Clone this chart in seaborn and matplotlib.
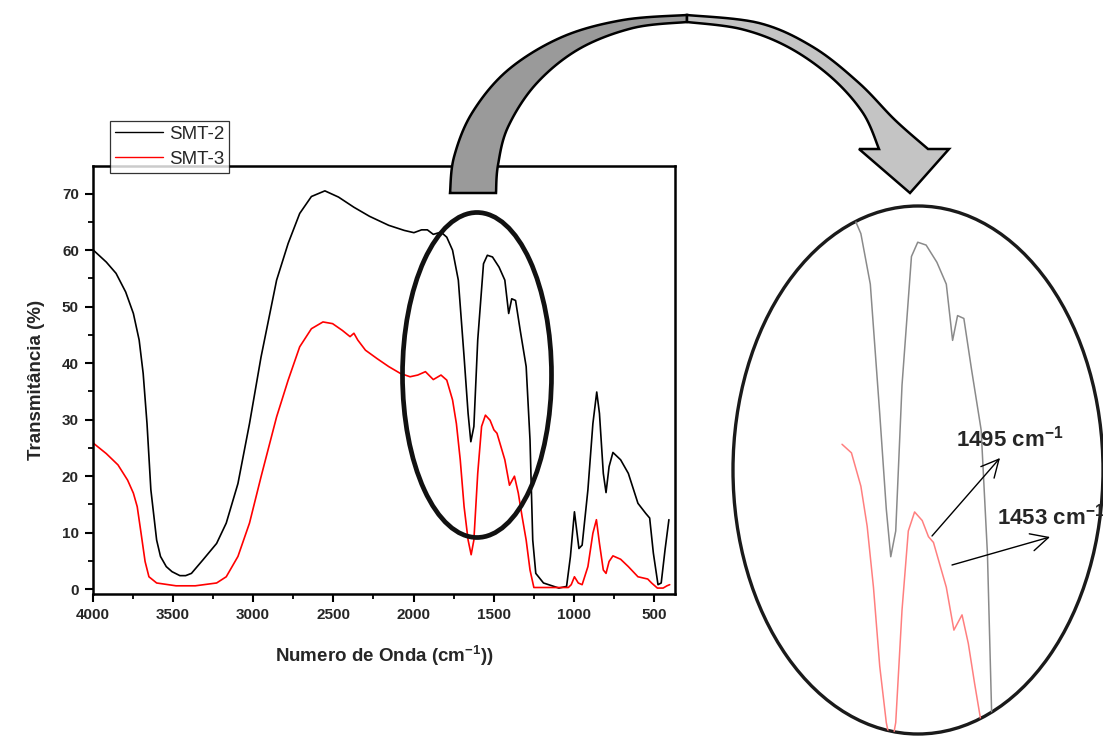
import numpy as np
import pandas as pd
import matplotlib
matplotlib.use("Agg")
import matplotlib.pyplot as plt
import seaborn as sns
from matplotlib.patches import Ellipse, Polygon, FancyArrowPatch
from matplotlib.ticker import MultipleLocator

# ---------------- data ----------------
wn_smt2 = [4000, 3916, 3855, 3795, 3747, 3711, 3686, 3662, 3638, 3602, 3578, 3542, 3506, 3457,
           3421, 3385, 3313,
           3228, 3168, 3095, 3023, 2951, 2854, 2782, 2710, 2637, 2553, 2468, 2372, 2275, 2155,
           2058, 1998, 1950, 1914, 1877, 1829, 1793, 1757, 1721, 1685, 1660, 1643, 1624, 1600,
           1564, 1540, 1508, 1467, 1431, 1407, 1388, 1364, 1335, 1298, 1274, 1257, 1238, 1190,
           1094, 1046, 1022, 997, 969, 949, 913, 882, 858, 841, 817, 800, 781, 757, 709, 661,
           601, 552, 528, 505, 476, 456, 432, 408]
t_smt2 = [60.1, 57.9, 55.9, 52.6, 48.8, 44.1, 38.2, 29.3, 17.6, 8.7, 5.8, 4.0, 3.1, 2.4,
          2.4, 2.8, 5.2,
          8.1, 11.7, 18.7, 29.3, 41.1, 54.7, 61.2, 66.5, 69.5, 70.5, 69.4, 67.6, 66.0, 64.4,
          63.5, 63.1, 63.6, 63.6, 62.8, 63.2, 62.3, 60.0, 54.7, 41.1, 31.1, 26.1, 28.8, 44.1,
          57.6, 59.1, 58.8, 57.0, 54.7, 48.8, 51.4, 51.1, 45.8, 39.4, 26.4, 8.7, 2.8, 1.1,
          0.2, 0.5, 5.8, 13.7, 7.2, 7.8, 17.6, 29.3, 34.9, 31.1, 20.5, 17.1, 21.7, 24.2, 22.9, 20.5,
          15.2, 13.4, 12.6, 6.4, 0.8, 1.1, 7.0, 12.3]

wn_smt3 = [4000, 3999, 3916, 3843, 3783, 3747, 3723, 3699, 3674, 3650, 3602, 3481, 3361, 3228,
           3168, 3095, 3023, 2951, 2854, 2782, 2710, 2637, 2565, 2505, 2444, 2396, 2372, 2348,
           2300, 2227, 2155, 2083, 2022, 1974, 1926, 1877, 1829, 1793, 1757, 1733, 1709, 1685,
           1660, 1641, 1624, 1600, 1576, 1552, 1523, 1499, 1480, 1455, 1431, 1402, 1371, 1347,
           1323, 1298, 1274, 1250, 1190, 1035, 1017, 997, 973, 949, 913, 882, 860, 841, 817,
           800, 781, 757, 709, 661, 601, 540, 516, 480, 444, 420, 403]
t_smt3 = [0.0, 25.9, 24.0, 22.0, 19.3, 17.0, 14.6, 9.9, 4.9, 2.2, 1.1, 0.6, 0.6, 1.1,
          2.2, 5.8, 11.7, 19.9, 30.5, 37.0, 42.9, 46.1, 47.3, 47.0, 45.8, 44.7, 45.3, 44.1,
          42.3, 40.8, 39.4, 38.2, 37.6, 37.9, 38.5, 37.1, 37.9, 37.0, 33.5, 29.3, 22.9, 14.6,
          8.7, 6.1, 8.7, 20.5, 28.8, 30.8, 29.9, 28.2, 27.6, 25.2, 22.9, 18.4, 20.0, 17.0,
          12.8, 8.7, 3.4, 0.3, 0.3, 0.3, 0.8, 2.2, 1.1, 0.8, 4.0, 9.9, 12.3, 8.1, 3.4,
          2.8, 4.9, 5.9, 5.3, 4.0, 2.2, 1.8, 1.1, 0.2, 0.2, 0.6, 0.8]

series_labels = ["SMT-2", "SMT-3"]
x_ticks = [4000, 3500, 3000, 2500, 2000, 1500, 1000, 500]
y_ticks = [0, 10, 20, 30, 40, 50, 60, 70]
x_label = "Numero de Onda (cm$^{\\mathbf{-1}}$))"
y_label = "Transmitância (%)"
annot_labels = ["1495 cm$^{\\mathbf{-1}}$", "1453 cm$^{\\mathbf{-1}}$"]
inset_smt2_range = (1200, 2000)   # wavenumber window shown in the magnified view
inset_smt3_range = (1290, 1850)

# ---------------- style ----------------
sns.set_theme(style="ticks")
plt.rcParams["font.family"] = ["Liberation Sans", "DejaVu Sans"]
plt.rcParams["mathtext.fontset"] = "custom"
plt.rcParams["mathtext.rm"] = "Liberation Sans"
plt.rcParams["mathtext.bf"] = "Liberation Sans:bold"
plt.rcParams["mathtext.it"] = "Liberation Sans:italic"

W, H = 1103, 736
fig = plt.figure(figsize=(W / 100, H / 100), dpi=100)
fig.patch.set_facecolor("white")


def fx(x):
    return x / W


def fy(y):
    return 1 - y / H


df2 = pd.DataFrame({"wn": wn_smt2, "T": t_smt2})
df3 = pd.DataFrame({"wn": wn_smt3, "T": t_smt3})

# ---------------- main axes ----------------
ax = fig.add_axes([fx(92.8), fy(594), fx(675) - fx(92.8), fy(166) - fy(594)])
ax.set_facecolor("white")
sns.lineplot(data=df2, x="wn", y="T", ax=ax, color="black", lw=1.2,
             estimator=None, sort=False, legend=False)
sns.lineplot(data=df3, x="wn", y="T", ax=ax, color="#ff0000", lw=1.2,
             estimator=None, sort=False, legend=False)
ax.set_xlim(4000, 370)
ax.set_ylim(-0.85, 74.9)
ax.set_xticks(x_ticks)
ax.set_yticks(y_ticks)
ax.xaxis.set_minor_locator(MultipleLocator(250))
ax.yaxis.set_minor_locator(MultipleLocator(5))
for s in ax.spines.values():
    s.set_linewidth(1.8)
    s.set_color("black")
ax.tick_params(which="major", direction="out", length=6, width=1.5, color="black",
               labelsize=11, pad=4, top=False, right=False)
ax.tick_params(which="minor", direction="out", length=3.5, width=1.3, color="black",
               top=False, right=False)
for lab in ax.get_xticklabels() + ax.get_yticklabels():
    lab.set_fontweight("bold")
ax.set_xlabel(x_label, fontsize=13.5, fontweight="bold", labelpad=16)
ax.set_ylabel(y_label, fontsize=13.5, fontweight="bold", labelpad=12)
ax.grid(False)

handles = ax.get_lines()[:2]
leg = fig.legend(handles, series_labels, loc="upper left",
                 bbox_to_anchor=(fx(110), fy(121)), frameon=True, fancybox=False,
                 edgecolor="black", fontsize=13.5, borderpad=0.25, handlelength=2.6,
                 handletextpad=0.3, labelspacing=0.42, borderaxespad=0)
leg.get_frame().set_linewidth(0.9)
for h in leg.get_lines():
    h.set_linewidth(1.0)

# ---------------- main oval ----------------
oval = Ellipse((fx(477), fy(375)), fx(149), 325 / H, transform=fig.transFigure,
               fill=False, ec="#111111", lw=3.4, zorder=6)
fig.add_artist(oval)


# ---------------- curved arrow ----------------
def smooth(pts, n=12):
    pts = np.asarray(pts, float)
    p = np.vstack([pts[0], pts, pts[-1]])
    out = []
    for i in range(1, len(p) - 2):
        p0, p1, p2, p3 = p[i - 1], p[i], p[i + 1], p[i + 2]
        for t in np.linspace(0, 1, n, endpoint=False):
            t2, t3 = t * t, t * t * t
            out.append(0.5 * ((2 * p1) + (-p0 + p2) * t + (2 * p0 - 5 * p1 + 4 * p2 - p3) * t2
                              + (-p0 + 3 * p1 - 3 * p2 + p3) * t3))
    out.append(pts[-1])
    return np.array(out)


outer_left = smooth([(450, 193), (454, 157), (472, 113), (508, 70), (562, 37), (623, 20), (687, 15)])
inner_left = smooth([(687, 22), (633, 28), (579, 49), (536, 84), (508, 127), (498, 165), (496, 193)])
outer_right = smooth([(687, 15), (759, 23), (813, 47), (859, 83), (895, 120), (928, 149)])
inner_right = smooth([(879, 149), (863, 113), (831, 77), (788, 47), (741, 29), (687, 22)])
head = np.array([(949, 149), (910, 193), (859, 149)])

left_poly = np.vstack([outer_left, inner_left])
right_poly = np.vstack([outer_right, head, inner_right])
for poly, col in [(left_poly, "#9a9a9a"), (right_poly, "#c4c4c4")]:
    xy = np.column_stack([poly[:, 0] / W, 1 - poly[:, 1] / H])
    fig.add_artist(Polygon(xy, closed=True, transform=fig.transFigure, fc=col,
                           ec="black", lw=1.8, joinstyle="miter", zorder=7))

# ---------------- magnified inset ----------------
ax_in = fig.add_axes([fx(733), fy(734), fx(1103) - fx(733), fy(206) - fy(734)])
ax_in.axis("off")
df2_in = df2[(df2["wn"] >= inset_smt2_range[0]) & (df2["wn"] <= inset_smt2_range[1])]
df3_in = df3[(df3["wn"] >= inset_smt3_range[0]) & (df3["wn"] <= inset_smt3_range[1])]
sns.lineplot(data=df2_in, x="wn", y="T", ax=ax_in, color="#8a8a8a", lw=1.1,
             estimator=None, sort=False, legend=False)
sns.lineplot(data=df3_in, x="wn", y="T", ax=ax_in, color="#ff7f7f", lw=1.1,
             estimator=None, sort=False, legend=False)
ax_in.set_xlim(2245, 833)
ax_in.set_ylim(7.5, 62.9)
clip = Ellipse((0.5, 0.5), 1, 1, transform=ax_in.transAxes)
for ln in ax_in.get_lines():
    ln.set_clip_path(clip)
ax_in.add_patch(Ellipse((0.5, 0.5), 1, 1, transform=ax_in.transAxes, fill=False,
                        ec="#1a1a1a", lw=2.4, clip_on=False))

# annotation arrows and labels
arrow_kw = dict(arrowstyle="->,head_length=0.9,head_width=0.45", color="black", lw=1.0,
                shrinkA=0, shrinkB=0, mutation_scale=14, zorder=8)
fig.add_artist(FancyArrowPatch((fx(932), fy(536)), (fx(1000), fy(458)),
                               transform=fig.transFigure, **arrow_kw))
fig.add_artist(FancyArrowPatch((fx(952), fy(565)), (fx(1050), fy(537)),
                               transform=fig.transFigure, **arrow_kw))
fig.text(fx(956), fy(447), annot_labels[0], fontsize=16, fontweight="bold",
         ha="left", va="baseline")
fig.text(fx(997), fy(525), annot_labels[1], fontsize=16, fontweight="bold",
         ha="left", va="baseline")

fig.savefig("out.png", dpi=100, facecolor="white")
